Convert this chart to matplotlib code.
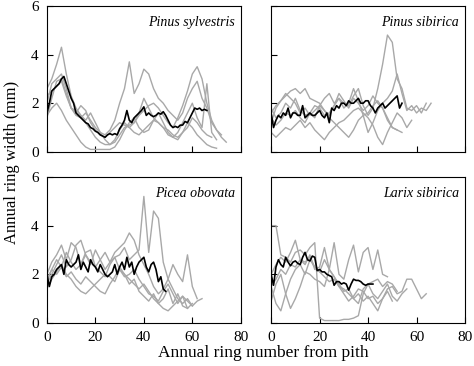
import numpy as np
import matplotlib.pyplot as plt

plt.rcParams['font.family'] = ['Liberation Serif', 'DejaVu Serif']

species = ['Pinus sylvestris', 'Pinus sibirica', 'Picea obovata', 'Larix sibirica']

# individual trees, ring width every 2nd ring from pith (mm)
sylvestris_trees = [
    [2.6, 3.0, 3.6, 4.3, 3.2, 2.3, 1.8, 1.5, 1.2, 0.9, 0.6, 0.4, 0.3, 0.3, 0.5, 0.9, 1.2, 1.0,
     0.8, 0.7, 0.9, 1.1, 1.3, 1.2, 1.0, 0.9, 0.7, 0.6, 0.8, 1.0, 1.4, 1.2, 0.9, 0.7, 0.6],
    [2.0, 2.8, 3.0, 3.2, 2.6, 1.8, 1.5, 1.4, 1.6, 1.3, 1.0, 0.8, 0.7, 0.9, 1.3, 2.0, 2.6, 3.7,
     2.4, 2.8, 3.4, 3.2, 2.6, 2.2, 2.0, 1.7, 1.5, 1.3, 1.6, 2.2, 2.6, 2.9, 2.2, 1.8, 1.2, 0.9, 0.7],
    [1.4, 2.2, 2.9, 3.0, 2.4, 1.8, 1.7, 1.5, 1.3, 1.6, 1.2, 0.8, 0.5, 0.3, 0.4, 0.7, 1.0, 1.1,
     1.2, 1.5, 1.7, 1.9, 2.0, 1.8, 1.5, 1.2, 1.0, 1.4, 1.9, 2.5, 3.2, 3.5, 3.0, 2.0, 1.3, 0.9, 0.6, 0.4],
    [1.5, 1.8, 2.0, 1.7, 1.3, 1.0, 0.7, 0.4, 0.2, 0.1, 0.1, 0.1, 0.1, 0.1, 0.2, 0.5, 0.9, 1.2,
     1.4, 1.0, 0.8, 0.9, 1.3, 1.6, 1.2, 0.8, 0.6, 0.5, 0.8, 1.2, 1.0, 0.7, 0.5, 0.3, 0.2, 0.15],
    [2.3, 2.5, 2.7, 2.9, 2.3, 1.8, 1.6, 1.9, 1.7, 1.2, 0.9, 0.7, 0.6, 0.8, 1.0, 1.2, 1.1, 1.0,
     1.2, 1.6, 2.2, 1.8, 1.4, 1.2, 1.0, 0.7, 0.6, 0.8, 1.2, 1.6, 2.0, 1.4, 1.0, 2.8, 0.8, 0.5],
]
sibirica_trees = [
    [1.8, 1.4, 1.6, 2.0, 1.8, 2.2, 1.7, 1.5, 1.6, 1.9, 1.8, 1.5, 1.6, 1.9, 2.2, 2.0, 1.9, 2.3,
     2.6, 1.9, 1.5, 1.8, 2.6, 3.6, 4.8, 4.5, 3.0, 2.6, 1.8, 1.7, 1.9, 1.6, 2.0],
    [1.2, 1.8, 2.1, 2.4, 2.2, 2.0, 1.6, 1.8, 1.5, 1.7, 1.9, 2.2, 2.4, 2.0, 2.2, 1.8, 2.0, 2.6,
     2.1, 1.5, 0.8, 1.2, 1.7, 2.0, 2.2, 2.5, 3.2, 2.4, 1.7, 1.9, 1.6, 1.8, 1.7, 2.0],
    [0.8, 0.6, 0.8, 1.0, 0.9, 1.1, 1.3, 1.0, 1.2, 0.9, 0.7, 0.5, 0.8, 1.0, 1.2, 1.3, 1.5, 1.7,
     1.8, 1.6, 1.4, 1.1, 0.6, 0.3, 0.8, 1.2, 1.6, 1.4, 1.0, 1.3],
    [1.6, 1.9, 2.1, 2.3, 2.5, 2.6, 2.4, 2.6, 2.2, 2.1, 2.0, 1.7, 1.4, 1.2, 1.0, 0.8, 0.6, 0.9,
     1.3, 1.5, 1.6, 1.9, 2.1, 1.8, 1.3, 1.0, 0.9],
    [1.4, 1.1, 1.3, 1.6, 1.5, 1.7, 1.4, 1.2, 1.6, 1.4, 1.9, 1.7, 1.5, 1.9, 2.4, 2.1, 1.8, 2.2,
     2.0, 1.7, 1.9, 2.3, 2.0, 1.8, 1.4, 1.0, 0.9, 0.8],
]
obovata_trees = [
    [1.8, 2.2, 2.6, 2.3, 2.9, 2.5, 2.2, 2.4, 2.8, 2.5, 2.3, 2.6, 2.9, 2.5, 2.7, 2.8, 3.1, 2.6,
     2.8, 3.0, 5.2, 2.9, 4.6, 4.3, 2.5, 1.8, 1.4, 1.0, 0.8, 1.0, 0.7, 0.9, 1.0],
    [1.6, 2.0, 2.4, 2.8, 2.3, 2.6, 3.2, 3.4, 2.8, 2.4, 3.0, 2.6, 2.2, 2.5, 2.9, 3.1, 3.3, 3.7,
     3.4, 2.8, 2.4, 2.0, 1.5, 1.2, 1.4, 1.8, 2.4, 2.0, 1.7, 2.8, 1.5, 1.0],
    [1.4, 1.8, 2.1, 2.4, 2.0, 1.8, 1.5, 1.3, 1.2, 1.4, 1.6, 1.8, 2.0, 1.9, 1.7, 2.2, 2.0, 1.8,
     1.6, 1.4, 1.6, 1.3, 1.0, 0.8, 0.6, 0.5, 0.7, 0.9, 1.1, 0.9, 0.7],
    [2.0, 2.5, 2.8, 3.2, 2.6, 3.3, 3.1, 2.4, 2.9, 3.0, 2.3, 2.1, 1.9, 2.4, 2.7, 2.2, 1.9, 2.0,
     2.2, 1.8, 1.5, 1.2, 1.1, 0.9, 1.3, 1.6, 1.2, 0.8, 1.1, 0.6],
    [1.7, 2.2, 2.0, 2.3, 1.9, 2.1, 1.8, 1.6, 1.9, 1.7, 1.5, 1.3, 1.2, 1.6, 1.9, 2.3, 2.0, 1.6,
     1.8, 1.3, 1.1, 0.9, 1.2, 0.8, 1.0, 1.4, 0.8, 1.2, 0.7, 0.6, 0.8],
]
larix_trees = [
    [4.0, 4.0, 2.8, 2.7, 2.5, 2.9, 3.0, 2.8, 3.1, 3.3, 0.2, 0.1, 0.1, 0.1, 0.1, 0.15, 0.15, 0.2,
     0.3, 1.2, 1.6, 1.7, 1.8, 1.5, 1.7, 1.6, 1.3],
    [1.5, 0.8, 0.5, 1.2, 1.8, 2.2, 2.4, 2.0, 2.6, 2.3, 2.1, 2.6, 2.2, 1.9, 1.5, 1.2, 0.9, 1.1,
     1.4, 1.3, 1.0, 1.1, 0.8, 1.0, 1.4, 1.5, 1.2, 1.3, 1.8, 1.8, 1.4, 1.0, 1.2],
    [2.0, 2.4, 2.7, 2.5, 2.9, 3.4, 2.6, 2.4, 2.8, 2.2, 2.3, 3.1, 2.2, 3.3, 2.0, 1.8, 2.6, 3.2,
     2.1, 2.9, 3.1, 2.2, 3.0, 2.0, 1.9],
    [0.9, 1.6, 2.0, 1.2, 0.6, 1.0, 1.5, 2.1, 2.0, 1.8, 1.7, 1.5, 2.2, 1.9, 1.6, 1.3, 1.4, 1.0,
     1.2, 0.9, 1.1, 0.8, 0.5, 1.0, 1.3, 0.9],
    [1.5, 1.8, 2.2, 2.0, 2.4, 2.3, 2.6, 2.5, 2.7, 2.3, 2.1, 1.9, 1.7, 1.8, 1.5, 1.4, 1.2, 1.0,
     0.8, 1.4, 1.6, 1.2, 1.0, 1.3, 1.6, 1.1, 0.9, 1.2, 1.4],
]

# mean chronology, every ring (mm)
sylvestris_mean = [1.6, 2.0, 2.5, 2.6, 2.7, 2.8, 3.0, 3.1, 2.8, 2.5, 2.2, 2.0, 1.6, 1.5, 1.4, 1.3,
                   1.2, 1.15, 1.0, 0.95, 0.85, 0.8, 0.7, 0.65, 0.6, 0.7, 0.75, 0.7, 0.75, 0.7,
                   0.95, 1.1, 1.3, 1.7, 1.3, 1.2, 1.4, 1.5, 1.6, 1.7, 1.85, 1.5, 1.6, 1.5, 1.45,
                   1.5, 1.6, 1.55, 1.65, 1.5, 1.3, 1.1, 1.0, 1.05, 1.0, 1.1, 1.1, 1.25, 1.2,
                   1.4, 1.6, 1.8, 1.75, 1.8, 1.7, 1.75, 1.7]
sibirica_mean = [1.6, 1.0, 1.3, 1.5, 1.4, 1.6, 1.5, 1.8, 1.4, 1.6, 1.6, 1.5, 1.5, 1.9, 1.4, 1.5,
                 1.6, 1.5, 1.5, 1.6, 1.7, 1.5, 1.4, 1.6, 1.2, 1.8, 1.7, 1.9, 1.8, 2.0, 2.0, 1.9,
                 2.1, 2.0, 2.0, 2.1, 2.2, 2.0, 2.0, 2.1, 2.1, 1.9, 1.8, 1.6, 1.8, 1.9, 2.0, 1.8,
                 1.9, 2.0, 2.1, 2.2, 2.3, 1.8, 2.0]
obovata_mean = [2.0, 1.5, 1.9, 2.0, 2.2, 2.3, 2.4, 2.0, 2.6, 2.4, 2.3, 2.4, 2.5, 2.8, 2.2, 2.5,
                2.3, 2.1, 2.6, 2.4, 2.3, 2.1, 2.4, 2.2, 2.0, 1.9, 2.0, 2.1, 2.4, 2.0, 2.3, 2.5,
                2.2, 2.7, 2.3, 2.5, 2.0, 2.3, 2.5, 2.6, 2.7, 2.3, 2.1, 2.4, 2.5, 2.2, 1.7, 1.9,
                1.4, 1.3]
larix_mean = [2.0, 1.55, 2.3, 2.6, 2.4, 2.3, 2.7, 2.5, 2.35, 2.5, 2.55, 2.45, 2.4, 2.7, 2.9,
              2.6, 2.55, 2.75, 2.7, 2.15, 2.2, 2.1, 2.1, 2.0, 1.95, 1.9, 1.55, 1.7, 1.7, 1.6,
              1.65, 1.6, 1.35, 1.6, 1.8, 1.75, 1.75, 1.7, 1.6, 1.55, 1.6, 1.6, 1.6]

trees = [sylvestris_trees, sibirica_trees, obovata_trees, larix_trees]
means = [sylvestris_mean, sibirica_mean, obovata_mean, larix_mean]

fig = plt.figure(figsize=(4.74, 3.66), dpi=100)
boxes = [[0.099, 0.585, 0.409, 0.399], [0.572, 0.585, 0.409, 0.399],
         [0.099, 0.1175, 0.409, 0.399], [0.572, 0.1175, 0.409, 0.399]]

for i, box in enumerate(boxes):
    ax = fig.add_axes(box)
    for t in trees[i]:
        ax.plot(np.arange(len(t)) * 2, t, color='#a8a8a8', lw=1.0)
    ax.plot(np.arange(len(means[i])), means[i], color='black', lw=1.2)
    ax.set_xlim(0, 80)
    ax.set_ylim(0, 6)
    ax.set_xticks([0, 20, 40, 60, 80])
    ax.set_yticks([0, 2, 4, 6])
    ax.tick_params(direction='in', length=4, width=0.8, labelsize=11, pad=6)
    if i % 2 == 1:
        ax.tick_params(labelleft=False)
    if i < 2:
        ax.tick_params(labelbottom=False)
    ax.text(0.97, 0.93, species[i], transform=ax.transAxes, ha='right', va='top',
            fontsize=10, style='italic')
    for s in ax.spines.values():
        s.set_linewidth(0.8)

fig.text(0.025, 0.555, 'Annual ring width (mm)', rotation=90, ha='center', va='center',
         fontsize=12)
fig.text(0.556, 0.035, 'Annual ring number from pith', ha='center', va='center', fontsize=12.5)

fig.savefig('out.png', dpi=100)
